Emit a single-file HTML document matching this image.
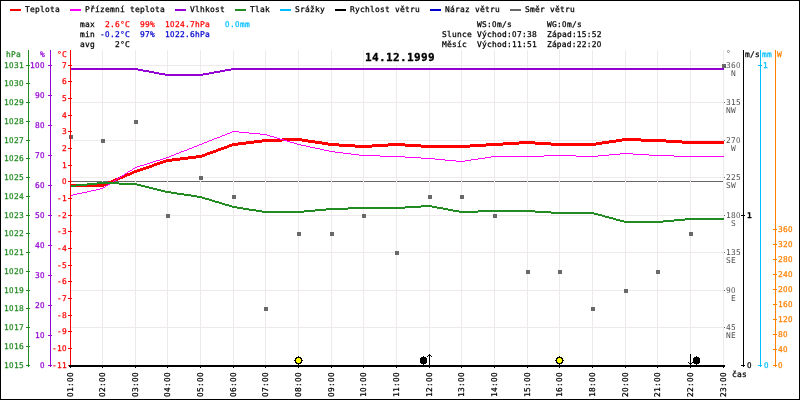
<!DOCTYPE html>
<html lang="cs"><head><meta charset="utf-8"><title>14.12.1999</title>
<style>
html,body{margin:0;padding:0;background:#fff;}
body{width:800px;height:400px;overflow:hidden;}
svg{display:block;}
.t{font-family:"DejaVu Sans Mono","Liberation Mono",monospace;font-size:7.9px;letter-spacing:0.244px;white-space:pre;stroke-width:0.25px;}
.b{font-weight:bold;}
.z{font-family:"DejaVu Sans Condensed","Liberation Sans",sans-serif;letter-spacing:0.479px;}
.ttl{font-family:"DejaVu Sans Mono","Liberation Mono",monospace;font-weight:bold;font-size:11px;letter-spacing:0.378px;}
</style></head><body>
<svg width="800" height="400" viewBox="0 0 800 400">
<rect x="0" y="0" width="800" height="400" fill="#fff"/>
<rect x="71" y="181" width="653" height="1" fill="#696969" shape-rendering="crispEdges"/>
<g shape-rendering="crispEdges">
<rect x="102" y="50" width="1" height="315" fill="#eeeaec"/>
<rect x="135" y="50" width="1" height="315" fill="#eeeaec"/>
<rect x="167" y="50" width="1" height="315" fill="#eeeaec"/>
<rect x="200" y="50" width="1" height="315" fill="#eeeaec"/>
<rect x="233" y="50" width="1" height="315" fill="#eeeaec"/>
<rect x="265" y="50" width="1" height="315" fill="#eeeaec"/>
<rect x="298" y="50" width="1" height="315" fill="#eeeaec"/>
<rect x="331" y="50" width="1" height="315" fill="#eeeaec"/>
<rect x="363" y="50" width="1" height="315" fill="#eeeaec"/>
<rect x="396" y="50" width="1" height="315" fill="#eeeaec"/>
<rect x="429" y="50" width="1" height="315" fill="#eeeaec"/>
<rect x="461" y="50" width="1" height="315" fill="#eeeaec"/>
<rect x="494" y="50" width="1" height="315" fill="#eeeaec"/>
<rect x="527" y="50" width="1" height="315" fill="#eeeaec"/>
<rect x="559" y="50" width="1" height="315" fill="#eeeaec"/>
<rect x="592" y="50" width="1" height="315" fill="#eeeaec"/>
<rect x="625" y="50" width="1" height="315" fill="#eeeaec"/>
<rect x="657" y="50" width="1" height="315" fill="#eeeaec"/>
<rect x="690" y="50" width="1" height="315" fill="#eeeaec"/>
<rect x="723" y="50" width="1" height="315" fill="#eeeaec"/>
<rect x="71" y="327" width="653" height="1" fill="#eeeaec"/>
<rect x="71" y="290" width="653" height="1" fill="#eeeaec"/>
<rect x="71" y="252" width="653" height="1" fill="#eeeaec"/>
<rect x="71" y="215" width="653" height="1" fill="#eeeaec"/>
<rect x="71" y="177" width="653" height="1" fill="#eeeaec"/>
<rect x="71" y="140" width="653" height="1" fill="#eeeaec"/>
<rect x="71" y="102" width="653" height="1" fill="#eeeaec"/>
<rect x="71" y="65" width="653" height="1" fill="#eeeaec"/>
</g>
<path d="M70 184h34v3h-34zM104 183h2v3h-2zM106 182h2v3h-2zM108 181h3v3h-3zM111 180h2v3h-2zM113 179h2v3h-2zM115 178h3v3h-3zM118 177h2v3h-2zM120 176h3v3h-3zM123 175h2v3h-2zM125 174h2v3h-2zM127 173h3v3h-3zM130 172h2v3h-2zM132 171h2v3h-2zM134 170h3v3h-3zM137 169h3v3h-3zM140 168h3v3h-3zM143 167h3v3h-3zM146 166h3v3h-3zM149 165h3v3h-3zM152 164h2v3h-2zM154 163h3v3h-3zM157 162h3v3h-3zM160 161h3v3h-3zM163 160h3v3h-3zM166 159h6v3h-6zM172 158h8v3h-8zM180 157h8v3h-8zM188 156h8v3h-8zM196 155h6v3h-6zM202 154h3v3h-3zM205 153h2v3h-2zM207 152h3v3h-3zM210 151h3v3h-3zM213 150h3v3h-3zM216 149h2v3h-2zM218 148h3v3h-3zM221 147h3v3h-3zM224 146h3v3h-3zM227 145h2v3h-2zM229 144h3v3h-3zM232 143h6v3h-6zM238 142h8v3h-8zM246 141h8v3h-8zM254 140h8v3h-8zM262 139h20v3h-20zM282 138h20v3h-20zM302 139h6v3h-6zM308 140h7v3h-7zM315 141h7v3h-7zM322 142h6v3h-6zM328 143h11v3h-11zM339 144h16v3h-16zM355 145h17v3h-17zM372 144h16v3h-16zM388 143h17v3h-17zM405 144h16v3h-16zM421 145h49v3h-49zM470 144h16v3h-16zM486 143h17v3h-17zM503 142h16v3h-16zM519 141h16v3h-16zM535 142h16v3h-16zM551 143h45v3h-45zM596 142h6v3h-6zM602 141h7v3h-7zM609 140h7v3h-7zM616 139h6v3h-6zM622 138h19v3h-19zM641 139h25v3h-25zM666 140h16v3h-16zM682 141h42v3h-42z" fill="#ff0000" shape-rendering="crispEdges"/>
<path d="M70 195h3v1h-3zM73 194h4v1h-4zM77 193h5v1h-5zM82 192h5v1h-5zM87 191h4v1h-4zM91 190h5v1h-5zM96 189h4v1h-4zM100 188h3v1h-3zM103 187h2v1h-2zM105 186h1v1h-1zM106 185h2v1h-2zM108 184h2v1h-2zM110 183h1v1h-1zM111 182h2v1h-2zM113 181h1v1h-1zM114 180h2v1h-2zM116 179h1v1h-1zM117 178h2v1h-2zM119 177h2v1h-2zM121 176h1v1h-1zM122 175h2v1h-2zM124 174h1v1h-1zM125 173h2v1h-2zM127 172h1v1h-1zM128 171h2v1h-2zM130 170h2v1h-2zM132 169h1v1h-1zM133 168h2v1h-2zM135 167h2v1h-2zM137 166h3v1h-3zM140 165h4v1h-4zM144 164h3v1h-3zM147 163h3v1h-3zM150 162h3v1h-3zM153 161h3v1h-3zM156 160h4v1h-4zM160 159h3v1h-3zM163 158h3v1h-3zM166 157h3v1h-3zM169 156h2v1h-2zM171 155h3v1h-3zM174 154h2v1h-2zM176 153h3v1h-3zM179 152h2v1h-2zM181 151h3v1h-3zM184 150h3v1h-3zM187 149h2v1h-2zM189 148h3v1h-3zM192 147h2v1h-2zM194 146h3v1h-3zM197 145h2v1h-2zM199 144h3v1h-3zM202 143h2v1h-2zM204 142h3v1h-3zM207 141h2v1h-2zM209 140h3v1h-3zM212 139h2v1h-2zM214 138h3v1h-3zM217 137h3v1h-3zM220 136h2v1h-2zM222 135h3v1h-3zM225 134h2v1h-2zM227 133h3v1h-3zM230 132h2v1h-2zM232 131h7v1h-7zM239 132h10v1h-10zM249 133h11v1h-11zM260 134h7v1h-7zM267 135h3v1h-3zM270 136h4v1h-4zM274 137h3v1h-3zM277 138h3v1h-3zM280 139h4v1h-4zM284 140h3v1h-3zM287 141h3v1h-3zM290 142h4v1h-4zM294 143h3v1h-3zM297 144h4v1h-4zM301 145h5v1h-5zM306 146h4v1h-4zM310 147h5v1h-5zM315 148h5v1h-5zM320 149h4v1h-4zM324 150h5v1h-5zM329 151h6v1h-6zM335 152h8v1h-8zM343 153h8v1h-8zM351 154h8v1h-8zM359 155h21v1h-21zM380 156h25v1h-25zM405 157h16v1h-16zM421 158h14v1h-14zM435 159h10v1h-10zM445 160h11v1h-11zM456 161h9v1h-9zM465 160h6v1h-6zM471 159h7v1h-7zM478 158h7v1h-7zM485 157h6v1h-6zM491 156h53v1h-53zM544 155h32v1h-32zM576 156h22v1h-22zM598 155h11v1h-11zM609 154h11v1h-11zM620 153h13v1h-13zM633 154h16v1h-16zM649 155h25v1h-25zM674 156h50v1h-50z" fill="#ff00ff" shape-rendering="crispEdges"/>
<path d="M70 68h68v2h-68zM138 69h5v2h-5zM143 70h6v2h-6zM149 71h5v2h-5zM154 72h5v2h-5zM159 73h6v2h-6zM165 74h38v2h-38zM203 73h6v2h-6zM209 72h5v2h-5zM214 71h6v2h-6zM220 70h5v2h-5zM225 69h6v2h-6zM231 68h493v2h-493z" fill="#9400d3" shape-rendering="crispEdges"/>
<path d="M70 185h6v2h-6zM76 184h11v2h-11zM87 183h10v2h-10zM97 182h22v2h-22zM119 183h18v2h-18zM137 184h4v2h-4zM141 185h4v2h-4zM145 186h4v2h-4zM149 187h4v2h-4zM153 188h4v2h-4zM157 189h4v2h-4zM161 190h4v2h-4zM165 191h6v2h-6zM171 192h6v2h-6zM177 193h7v2h-7zM184 194h7v2h-7zM191 195h6v2h-6zM197 196h5v2h-5zM202 197h3v2h-3zM205 198h4v2h-4zM209 199h3v2h-3zM212 200h3v2h-3zM215 201h4v2h-4zM219 202h3v2h-3zM222 203h3v2h-3zM225 204h4v2h-4zM229 205h3v2h-3zM232 206h5v2h-5zM237 207h6v2h-6zM243 208h6v2h-6zM249 209h7v2h-7zM256 210h6v2h-6zM262 211h42v2h-42zM304 210h11v2h-11zM315 209h11v2h-11zM326 208h22v2h-22zM348 207h57v2h-57zM405 206h16v2h-16zM421 205h11v2h-11zM432 206h5v2h-5zM437 207h6v2h-6zM443 208h5v2h-5zM448 209h5v2h-5zM453 210h6v2h-6zM459 211h19v2h-19zM478 210h57v2h-57zM535 211h16v2h-16zM551 212h43v2h-43zM594 213h4v2h-4zM598 214h4v2h-4zM602 215h3v2h-3zM605 216h4v2h-4zM609 217h4v2h-4zM613 218h3v2h-3zM616 219h4v2h-4zM620 220h4v2h-4zM624 221h39v2h-39zM663 220h11v2h-11zM674 219h11v2h-11zM685 218h39v2h-39z" fill="#228b22" shape-rendering="crispEdges"/>
<g shape-rendering="crispEdges">
<rect x="69" y="135" width="4" height="4" fill="#696969"/>
<rect x="101" y="139" width="4" height="4" fill="#696969"/>
<rect x="134" y="120" width="4" height="4" fill="#696969"/>
<rect x="166" y="214" width="4" height="4" fill="#696969"/>
<rect x="199" y="176" width="4" height="4" fill="#696969"/>
<rect x="232" y="195" width="4" height="4" fill="#696969"/>
<rect x="264" y="307" width="4" height="4" fill="#696969"/>
<rect x="297" y="232" width="4" height="4" fill="#696969"/>
<rect x="330" y="232" width="4" height="4" fill="#696969"/>
<rect x="362" y="214" width="4" height="4" fill="#696969"/>
<rect x="395" y="251" width="4" height="4" fill="#696969"/>
<rect x="428" y="195" width="4" height="4" fill="#696969"/>
<rect x="460" y="195" width="4" height="4" fill="#696969"/>
<rect x="493" y="214" width="4" height="4" fill="#696969"/>
<rect x="526" y="270" width="4" height="4" fill="#696969"/>
<rect x="558" y="270" width="4" height="4" fill="#696969"/>
<rect x="591" y="307" width="4" height="4" fill="#696969"/>
<rect x="624" y="289" width="4" height="4" fill="#696969"/>
<rect x="656" y="270" width="4" height="4" fill="#696969"/>
<rect x="689" y="232" width="4" height="4" fill="#696969"/>
<rect x="722" y="64" width="4" height="4" fill="#696969"/>
</g>
<g shape-rendering="crispEdges">
<rect x="28" y="50" width="1" height="317" fill="#228b22"/>
<rect x="26" y="65" width="4" height="1" fill="#228b22"/>
<rect x="26" y="83" width="4" height="1" fill="#228b22"/>
<rect x="26" y="102" width="4" height="1" fill="#228b22"/>
<rect x="26" y="121" width="4" height="1" fill="#228b22"/>
<rect x="26" y="140" width="4" height="1" fill="#228b22"/>
<rect x="26" y="158" width="4" height="1" fill="#228b22"/>
<rect x="26" y="177" width="4" height="1" fill="#228b22"/>
<rect x="26" y="196" width="4" height="1" fill="#228b22"/>
<rect x="26" y="215" width="4" height="1" fill="#228b22"/>
<rect x="26" y="233" width="4" height="1" fill="#228b22"/>
<rect x="26" y="252" width="4" height="1" fill="#228b22"/>
<rect x="26" y="271" width="4" height="1" fill="#228b22"/>
<rect x="26" y="290" width="4" height="1" fill="#228b22"/>
<rect x="26" y="308" width="4" height="1" fill="#228b22"/>
<rect x="26" y="327" width="4" height="1" fill="#228b22"/>
<rect x="26" y="346" width="4" height="1" fill="#228b22"/>
<rect x="26" y="365" width="4" height="1" fill="#228b22"/>
<rect x="50" y="50" width="1" height="317" fill="#9400d3"/>
<rect x="48" y="65" width="4" height="1" fill="#9400d3"/>
<rect x="48" y="95" width="4" height="1" fill="#9400d3"/>
<rect x="48" y="125" width="4" height="1" fill="#9400d3"/>
<rect x="48" y="155" width="4" height="1" fill="#9400d3"/>
<rect x="48" y="185" width="4" height="1" fill="#9400d3"/>
<rect x="48" y="215" width="4" height="1" fill="#9400d3"/>
<rect x="48" y="245" width="4" height="1" fill="#9400d3"/>
<rect x="48" y="275" width="4" height="1" fill="#9400d3"/>
<rect x="48" y="305" width="4" height="1" fill="#9400d3"/>
<rect x="48" y="335" width="4" height="1" fill="#9400d3"/>
<rect x="48" y="365" width="4" height="1" fill="#9400d3"/>
<rect x="70" y="50" width="1" height="317" fill="#ff0000"/>
<rect x="68" y="65" width="4" height="1" fill="#ff0000"/>
<rect x="68" y="81" width="4" height="1" fill="#ff0000"/>
<rect x="68" y="98" width="4" height="1" fill="#ff0000"/>
<rect x="68" y="115" width="4" height="1" fill="#ff0000"/>
<rect x="68" y="131" width="4" height="1" fill="#ff0000"/>
<rect x="68" y="148" width="4" height="1" fill="#ff0000"/>
<rect x="68" y="165" width="4" height="1" fill="#ff0000"/>
<rect x="68" y="181" width="4" height="1" fill="#ff0000"/>
<rect x="68" y="198" width="4" height="1" fill="#ff0000"/>
<rect x="68" y="215" width="4" height="1" fill="#ff0000"/>
<rect x="68" y="231" width="4" height="1" fill="#ff0000"/>
<rect x="68" y="248" width="4" height="1" fill="#ff0000"/>
<rect x="68" y="265" width="4" height="1" fill="#ff0000"/>
<rect x="68" y="281" width="4" height="1" fill="#ff0000"/>
<rect x="68" y="298" width="4" height="1" fill="#ff0000"/>
<rect x="68" y="315" width="4" height="1" fill="#ff0000"/>
<rect x="68" y="331" width="4" height="1" fill="#ff0000"/>
<rect x="68" y="348" width="4" height="1" fill="#ff0000"/>
<rect x="68" y="365" width="4" height="1" fill="#ff0000"/>
<rect x="743" y="50" width="1" height="317" fill="#000"/>
<rect x="741" y="215" width="4" height="1" fill="#000"/>
<rect x="741" y="365" width="4" height="1" fill="#000"/>
<rect x="760" y="50" width="1" height="317" fill="#00bfff"/>
<rect x="758" y="65" width="4" height="1" fill="#00bfff"/>
<rect x="758" y="365" width="4" height="1" fill="#00bfff"/>
<rect x="775" y="50" width="1" height="317" fill="#ff8000"/>
<rect x="773" y="365" width="4" height="1" fill="#ff8000"/>
<rect x="773" y="349" width="4" height="1" fill="#ff8000"/>
<rect x="773" y="334" width="4" height="1" fill="#ff8000"/>
<rect x="773" y="319" width="4" height="1" fill="#ff8000"/>
<rect x="773" y="304" width="4" height="1" fill="#ff8000"/>
<rect x="773" y="289" width="4" height="1" fill="#ff8000"/>
<rect x="773" y="274" width="4" height="1" fill="#ff8000"/>
<rect x="773" y="259" width="4" height="1" fill="#ff8000"/>
<rect x="773" y="244" width="4" height="1" fill="#ff8000"/>
<rect x="773" y="229" width="4" height="1" fill="#ff8000"/>
<rect x="69" y="365" width="656" height="2" fill="#000"/>
<rect x="70" y="367" width="1" height="1" fill="#000"/>
<rect x="102" y="367" width="1" height="1" fill="#000"/>
<rect x="135" y="367" width="1" height="1" fill="#000"/>
<rect x="167" y="367" width="1" height="1" fill="#000"/>
<rect x="200" y="367" width="1" height="1" fill="#000"/>
<rect x="233" y="367" width="1" height="1" fill="#000"/>
<rect x="265" y="367" width="1" height="1" fill="#000"/>
<rect x="298" y="367" width="1" height="1" fill="#000"/>
<rect x="331" y="367" width="1" height="1" fill="#000"/>
<rect x="363" y="367" width="1" height="1" fill="#000"/>
<rect x="396" y="367" width="1" height="1" fill="#000"/>
<rect x="429" y="367" width="1" height="1" fill="#000"/>
<rect x="461" y="367" width="1" height="1" fill="#000"/>
<rect x="494" y="367" width="1" height="1" fill="#000"/>
<rect x="527" y="367" width="1" height="1" fill="#000"/>
<rect x="559" y="367" width="1" height="1" fill="#000"/>
<rect x="592" y="367" width="1" height="1" fill="#000"/>
<rect x="625" y="367" width="1" height="1" fill="#000"/>
<rect x="657" y="367" width="1" height="1" fill="#000"/>
<rect x="690" y="367" width="1" height="1" fill="#000"/>
<rect x="723" y="367" width="1" height="1" fill="#000"/>
<rect x="724" y="327" width="1" height="1" fill="#696969"/>
<rect x="724" y="290" width="1" height="1" fill="#696969"/>
<rect x="724" y="252" width="1" height="1" fill="#696969"/>
<rect x="724" y="215" width="1" height="1" fill="#696969"/>
<rect x="724" y="177" width="1" height="1" fill="#696969"/>
<rect x="724" y="140" width="1" height="1" fill="#696969"/>
<rect x="724" y="102" width="1" height="1" fill="#696969"/>
<rect x="724" y="65" width="1" height="1" fill="#696969"/>
</g>
<text class="t" x="4" y="68" fill="#228b22" stroke="#228b22">1<tspan class="z">0</tspan>31</text>
<text class="t" x="4" y="86" fill="#228b22" stroke="#228b22">1<tspan class="z">0</tspan>3<tspan class="z">0</tspan></text>
<text class="t" x="4" y="105" fill="#228b22" stroke="#228b22">1<tspan class="z">0</tspan>29</text>
<text class="t" x="4" y="124" fill="#228b22" stroke="#228b22">1<tspan class="z">0</tspan>28</text>
<text class="t" x="4" y="143" fill="#228b22" stroke="#228b22">1<tspan class="z">0</tspan>27</text>
<text class="t" x="4" y="161" fill="#228b22" stroke="#228b22">1<tspan class="z">0</tspan>26</text>
<text class="t" x="4" y="180" fill="#228b22" stroke="#228b22">1<tspan class="z">0</tspan>25</text>
<text class="t" x="4" y="199" fill="#228b22" stroke="#228b22">1<tspan class="z">0</tspan>24</text>
<text class="t" x="4" y="218" fill="#228b22" stroke="#228b22">1<tspan class="z">0</tspan>23</text>
<text class="t" x="4" y="236" fill="#228b22" stroke="#228b22">1<tspan class="z">0</tspan>22</text>
<text class="t" x="4" y="255" fill="#228b22" stroke="#228b22">1<tspan class="z">0</tspan>21</text>
<text class="t" x="4" y="274" fill="#228b22" stroke="#228b22">1<tspan class="z">0</tspan>2<tspan class="z">0</tspan></text>
<text class="t" x="4" y="293" fill="#228b22" stroke="#228b22">1<tspan class="z">0</tspan>19</text>
<text class="t" x="4" y="311" fill="#228b22" stroke="#228b22">1<tspan class="z">0</tspan>18</text>
<text class="t" x="4" y="330" fill="#228b22" stroke="#228b22">1<tspan class="z">0</tspan>17</text>
<text class="t" x="4" y="349" fill="#228b22" stroke="#228b22">1<tspan class="z">0</tspan>16</text>
<text class="t" x="4" y="368" fill="#228b22" stroke="#228b22">1<tspan class="z">0</tspan>15</text>
<text class="t" x="6" y="57" fill="#228b22" stroke="#228b22">hPa</text>
<text class="t" x="30" y="68" fill="#9400d3" stroke="#9400d3">1<tspan class="z">0</tspan><tspan class="z">0</tspan></text>
<text class="t" x="35" y="98" fill="#9400d3" stroke="#9400d3">9<tspan class="z">0</tspan></text>
<text class="t" x="35" y="128" fill="#9400d3" stroke="#9400d3">8<tspan class="z">0</tspan></text>
<text class="t" x="35" y="158" fill="#9400d3" stroke="#9400d3">7<tspan class="z">0</tspan></text>
<text class="t" x="35" y="188" fill="#9400d3" stroke="#9400d3">6<tspan class="z">0</tspan></text>
<text class="t" x="35" y="218" fill="#9400d3" stroke="#9400d3">5<tspan class="z">0</tspan></text>
<text class="t" x="35" y="248" fill="#9400d3" stroke="#9400d3">4<tspan class="z">0</tspan></text>
<text class="t" x="35" y="278" fill="#9400d3" stroke="#9400d3">3<tspan class="z">0</tspan></text>
<text class="t" x="35" y="308" fill="#9400d3" stroke="#9400d3">2<tspan class="z">0</tspan></text>
<text class="t" x="35" y="338" fill="#9400d3" stroke="#9400d3">1<tspan class="z">0</tspan></text>
<text class="t" x="40" y="368" fill="#9400d3" stroke="#9400d3"><tspan class="z">0</tspan></text>
<text class="t" x="40" y="57" fill="#9400d3" stroke="#9400d3">%</text>
<text class="t" x="62" y="68" fill="#ff0000" stroke="#ff0000">7</text>
<text class="t" x="62" y="84" fill="#ff0000" stroke="#ff0000">6</text>
<text class="t" x="62" y="101" fill="#ff0000" stroke="#ff0000">5</text>
<text class="t" x="62" y="118" fill="#ff0000" stroke="#ff0000">4</text>
<text class="t" x="62" y="134" fill="#ff0000" stroke="#ff0000">3</text>
<text class="t" x="62" y="151" fill="#ff0000" stroke="#ff0000">2</text>
<text class="t" x="62" y="168" fill="#ff0000" stroke="#ff0000">1</text>
<text class="t" x="62" y="184" fill="#ff0000" stroke="#ff0000"><tspan class="z">0</tspan></text>
<text class="t" x="57" y="201" fill="#ff0000" stroke="#ff0000">-1</text>
<text class="t" x="57" y="218" fill="#ff0000" stroke="#ff0000">-2</text>
<text class="t" x="57" y="234" fill="#ff0000" stroke="#ff0000">-3</text>
<text class="t" x="57" y="251" fill="#ff0000" stroke="#ff0000">-4</text>
<text class="t" x="57" y="268" fill="#ff0000" stroke="#ff0000">-5</text>
<text class="t" x="57" y="284" fill="#ff0000" stroke="#ff0000">-6</text>
<text class="t" x="57" y="301" fill="#ff0000" stroke="#ff0000">-7</text>
<text class="t" x="57" y="318" fill="#ff0000" stroke="#ff0000">-8</text>
<text class="t" x="57" y="334" fill="#ff0000" stroke="#ff0000">-9</text>
<text class="t" x="52" y="351" fill="#ff0000" stroke="#ff0000">-1<tspan class="z">0</tspan></text>
<text class="t" x="52" y="368" fill="#ff0000" stroke="#ff0000">-11</text>
<text class="t" x="57" y="57" fill="#ff0000" stroke="#ff0000">°C</text>
<text class="t" x="726" y="68" fill="#505050">36<tspan class="z">0</tspan></text>
<text class="t" x="731" y="76" fill="#505050">N</text>
<text class="t" x="726" y="105" fill="#505050">315</text>
<text class="t" x="726" y="113" fill="#505050">NW</text>
<text class="t" x="726" y="143" fill="#505050">27<tspan class="z">0</tspan></text>
<text class="t" x="731" y="151" fill="#505050">W</text>
<text class="t" x="726" y="180" fill="#505050">225</text>
<text class="t" x="726" y="188" fill="#505050">SW</text>
<text class="t" x="726" y="218" fill="#505050">18<tspan class="z">0</tspan></text>
<text class="t" x="731" y="226" fill="#505050">S</text>
<text class="t" x="726" y="255" fill="#505050">135</text>
<text class="t" x="726" y="263" fill="#505050">SE</text>
<text class="t" x="726" y="293" fill="#505050">9<tspan class="z">0</tspan></text>
<text class="t" x="731" y="301" fill="#505050">E</text>
<text class="t" x="726" y="330" fill="#505050">45</text>
<text class="t" x="726" y="338" fill="#505050">NE</text>
<text class="t" x="726" y="55.6" fill="#505050">°</text>
<text class="t" x="745" y="57" fill="#000" stroke="#000">m/s</text>
<text class="t" x="762" y="57" fill="#00bfff" stroke="#00bfff">mm</text>
<text class="t" x="777" y="57" fill="#ff8000" stroke="#ff8000">W</text>
<text class="t b" x="747" y="218" fill="#000" stroke="#000">1</text>
<text class="t" x="747" y="368" fill="#000" stroke="#000"><tspan class="z">0</tspan></text>
<text class="t" x="763" y="68" fill="#00bfff" stroke="#00bfff">1</text>
<text class="t" x="764" y="368" fill="#00bfff" stroke="#00bfff"><tspan class="z">0</tspan></text>
<text class="t" x="778" y="368" fill="#ff8000" stroke="#ff8000"><tspan class="z">0</tspan></text>
<text class="t" x="778" y="352" fill="#ff8000" stroke="#ff8000">4<tspan class="z">0</tspan></text>
<text class="t" x="778" y="337" fill="#ff8000" stroke="#ff8000">8<tspan class="z">0</tspan></text>
<text class="t" x="778" y="322" fill="#ff8000" stroke="#ff8000">12<tspan class="z">0</tspan></text>
<text class="t" x="778" y="307" fill="#ff8000" stroke="#ff8000">16<tspan class="z">0</tspan></text>
<text class="t" x="778" y="292" fill="#ff8000" stroke="#ff8000">2<tspan class="z">0</tspan><tspan class="z">0</tspan></text>
<text class="t" x="778" y="277" fill="#ff8000" stroke="#ff8000">24<tspan class="z">0</tspan></text>
<text class="t" x="778" y="262" fill="#ff8000" stroke="#ff8000">28<tspan class="z">0</tspan></text>
<text class="t" x="778" y="247" fill="#ff8000" stroke="#ff8000">32<tspan class="z">0</tspan></text>
<text class="t" x="778" y="232" fill="#ff8000" stroke="#ff8000">36<tspan class="z">0</tspan></text>
<text class="t" x="732" y="377" fill="#000" stroke="#000">čas</text>
<text class="t" transform="translate(73,397) rotate(-90)" x="0" y="0" fill="#000" stroke="#000"><tspan class="z">0</tspan>1:<tspan class="z">0</tspan><tspan class="z">0</tspan></text>
<text class="t" transform="translate(105,397) rotate(-90)" x="0" y="0" fill="#000" stroke="#000"><tspan class="z">0</tspan>2:<tspan class="z">0</tspan><tspan class="z">0</tspan></text>
<text class="t" transform="translate(138,397) rotate(-90)" x="0" y="0" fill="#000" stroke="#000"><tspan class="z">0</tspan>3:<tspan class="z">0</tspan><tspan class="z">0</tspan></text>
<text class="t" transform="translate(170,397) rotate(-90)" x="0" y="0" fill="#000" stroke="#000"><tspan class="z">0</tspan>4:<tspan class="z">0</tspan><tspan class="z">0</tspan></text>
<text class="t" transform="translate(203,397) rotate(-90)" x="0" y="0" fill="#000" stroke="#000"><tspan class="z">0</tspan>5:<tspan class="z">0</tspan><tspan class="z">0</tspan></text>
<text class="t" transform="translate(236,397) rotate(-90)" x="0" y="0" fill="#000" stroke="#000"><tspan class="z">0</tspan>6:<tspan class="z">0</tspan><tspan class="z">0</tspan></text>
<text class="t" transform="translate(268,397) rotate(-90)" x="0" y="0" fill="#000" stroke="#000"><tspan class="z">0</tspan>7:<tspan class="z">0</tspan><tspan class="z">0</tspan></text>
<text class="t" transform="translate(301,397) rotate(-90)" x="0" y="0" fill="#000" stroke="#000"><tspan class="z">0</tspan>8:<tspan class="z">0</tspan><tspan class="z">0</tspan></text>
<text class="t" transform="translate(334,397) rotate(-90)" x="0" y="0" fill="#000" stroke="#000"><tspan class="z">0</tspan>9:<tspan class="z">0</tspan><tspan class="z">0</tspan></text>
<text class="t" transform="translate(366,397) rotate(-90)" x="0" y="0" fill="#000" stroke="#000">1<tspan class="z">0</tspan>:<tspan class="z">0</tspan><tspan class="z">0</tspan></text>
<text class="t" transform="translate(399,397) rotate(-90)" x="0" y="0" fill="#000" stroke="#000">11:<tspan class="z">0</tspan><tspan class="z">0</tspan></text>
<text class="t" transform="translate(432,397) rotate(-90)" x="0" y="0" fill="#000" stroke="#000">12:<tspan class="z">0</tspan><tspan class="z">0</tspan></text>
<text class="t" transform="translate(464,397) rotate(-90)" x="0" y="0" fill="#000" stroke="#000">13:<tspan class="z">0</tspan><tspan class="z">0</tspan></text>
<text class="t" transform="translate(497,397) rotate(-90)" x="0" y="0" fill="#000" stroke="#000">14:<tspan class="z">0</tspan><tspan class="z">0</tspan></text>
<text class="t" transform="translate(530,397) rotate(-90)" x="0" y="0" fill="#000" stroke="#000">15:<tspan class="z">0</tspan><tspan class="z">0</tspan></text>
<text class="t" transform="translate(562,397) rotate(-90)" x="0" y="0" fill="#000" stroke="#000">16:<tspan class="z">0</tspan><tspan class="z">0</tspan></text>
<text class="t" transform="translate(595,397) rotate(-90)" x="0" y="0" fill="#000" stroke="#000">18:<tspan class="z">0</tspan><tspan class="z">0</tspan></text>
<text class="t" transform="translate(628,397) rotate(-90)" x="0" y="0" fill="#000" stroke="#000">2<tspan class="z">0</tspan>:<tspan class="z">0</tspan><tspan class="z">0</tspan></text>
<text class="t" transform="translate(660,397) rotate(-90)" x="0" y="0" fill="#000" stroke="#000">21:<tspan class="z">0</tspan><tspan class="z">0</tspan></text>
<text class="t" transform="translate(693,397) rotate(-90)" x="0" y="0" fill="#000" stroke="#000">22:<tspan class="z">0</tspan><tspan class="z">0</tspan></text>
<text class="t" transform="translate(726,397) rotate(-90)" x="0" y="0" fill="#000" stroke="#000">23:<tspan class="z">0</tspan><tspan class="z">0</tspan></text>
<rect x="10" y="9" width="11" height="2" fill="#ff0000" shape-rendering="crispEdges"/>
<text class="t" x="25" y="12" fill="#000" stroke="#000">Teplota</text>
<rect x="70" y="9" width="11" height="2" fill="#ff00ff" shape-rendering="crispEdges"/>
<text class="t" x="85" y="12" fill="#000" stroke="#000">Přízemní teplota</text>
<rect x="175" y="9" width="11" height="2" fill="#9400d3" shape-rendering="crispEdges"/>
<text class="t" x="190" y="12" fill="#000" stroke="#000">Vlhkost</text>
<rect x="235" y="9" width="11" height="2" fill="#228b22" shape-rendering="crispEdges"/>
<text class="t" x="250" y="12" fill="#000" stroke="#000">Tlak</text>
<rect x="280" y="9" width="11" height="2" fill="#00bfff" shape-rendering="crispEdges"/>
<text class="t" x="295" y="12" fill="#000" stroke="#000">Srážky</text>
<rect x="335" y="9" width="11" height="2" fill="#000" shape-rendering="crispEdges"/>
<text class="t" x="350" y="12" fill="#000" stroke="#000">Rychlost větru</text>
<rect x="430" y="9" width="11" height="2" fill="#0000cd" shape-rendering="crispEdges"/>
<text class="t" x="445" y="12" fill="#000" stroke="#000">Náraz větru</text>
<rect x="510" y="9" width="11" height="2" fill="#696969" shape-rendering="crispEdges"/>
<text class="t" x="525" y="12" fill="#000" stroke="#000">Směr větru</text>
<text class="t" x="80" y="27" fill="#000" stroke="#000">max</text>
<text class="t" x="80" y="37" fill="#000" stroke="#000">min</text>
<text class="t" x="80" y="47" fill="#000" stroke="#000">avg</text>
<text class="t" x="105" y="27" fill="#ff0000" stroke="#ff0000">2.6°C</text>
<text class="t" x="140" y="27" fill="#ff0000" stroke="#ff0000">99%</text>
<text class="t" x="165" y="27" fill="#ff0000" stroke="#ff0000">1<tspan class="z">0</tspan>24.7hPa</text>
<text class="t" x="225" y="27" fill="#00bfff" stroke="#00bfff"><tspan class="z">0</tspan>.<tspan class="z">0</tspan>mm</text>
<text class="t" x="100" y="37" fill="#0000cd" stroke="#0000cd">-<tspan class="z">0</tspan>.2°C</text>
<text class="t" x="140" y="37" fill="#0000cd" stroke="#0000cd">97%</text>
<text class="t" x="165" y="37" fill="#0000cd" stroke="#0000cd">1<tspan class="z">0</tspan>22.6hPa</text>
<text class="t" x="115" y="47" fill="#000" stroke="#000">2°C</text>
<text class="t" x="477" y="27" fill="#000" stroke="#000">WS:<tspan class="z">0</tspan>m/s</text>
<text class="t" x="547" y="27" fill="#000" stroke="#000">WG:<tspan class="z">0</tspan>m/s</text>
<text class="t" x="442" y="37" fill="#000" stroke="#000">Slunce Východ:<tspan class="z">0</tspan>7:38  Západ:15:52</text>
<text class="t" x="442" y="47" fill="#000" stroke="#000">Měsíc  Východ:11:51  Západ:22:2<tspan class="z">0</tspan></text>
<rect x="365" y="52" width="70" height="13" fill="#fff"/>
<text class="ttl" x="365" y="61" fill="#000" stroke="#000" stroke-width="0.3">14.12.1999</text>
<g shape-rendering="crispEdges">
<rect x="298" y="356" width="1" height="9" fill="#000"/>
<rect x="294" y="360" width="9" height="1" fill="#000"/>
<rect x="296" y="357" width="5" height="7" fill="#000"/>
<rect x="295" y="358" width="7" height="5" fill="#000"/>
<rect x="297" y="358" width="3" height="5" fill="#ffff00"/>
<rect x="296" y="359" width="5" height="3" fill="#ffff00"/>
</g>
<g shape-rendering="crispEdges">
<rect x="559" y="356" width="1" height="9" fill="#000"/>
<rect x="555" y="360" width="9" height="1" fill="#000"/>
<rect x="557" y="357" width="5" height="7" fill="#000"/>
<rect x="556" y="358" width="7" height="5" fill="#000"/>
<rect x="558" y="358" width="3" height="5" fill="#ffff00"/>
<rect x="557" y="359" width="5" height="3" fill="#ffff00"/>
</g>
<g shape-rendering="crispEdges">
<rect x="423" y="356" width="1" height="9" fill="#000"/>
<rect x="421" y="357" width="5" height="7" fill="#000"/>
<rect x="420" y="358" width="7" height="5" fill="#000"/>
</g>
<g shape-rendering="crispEdges">
<rect x="696" y="356" width="1" height="9" fill="#000"/>
<rect x="694" y="357" width="5" height="7" fill="#000"/>
<rect x="693" y="358" width="7" height="5" fill="#000"/>
</g>
<g shape-rendering="crispEdges" fill="#000">
<rect x="429" y="354" width="1" height="11" fill="#000"/>
<rect x="428" y="355" width="3" height="1" fill="#000"/>
<rect x="427" y="356" width="1" height="1" fill="#000"/>
<rect x="431" y="356" width="1" height="1" fill="#000"/>
<rect x="690" y="354" width="1" height="11" fill="#000"/>
<rect x="689" y="363" width="3" height="1" fill="#000"/>
<rect x="688" y="362" width="1" height="1" fill="#000"/>
<rect x="692" y="362" width="1" height="1" fill="#000"/>
</g>
<path d="M0.5 0.5H799.5V399.5H0.5Z" fill="none" stroke="#000" stroke-width="1" shape-rendering="crispEdges"/>
</svg>
</body></html>
